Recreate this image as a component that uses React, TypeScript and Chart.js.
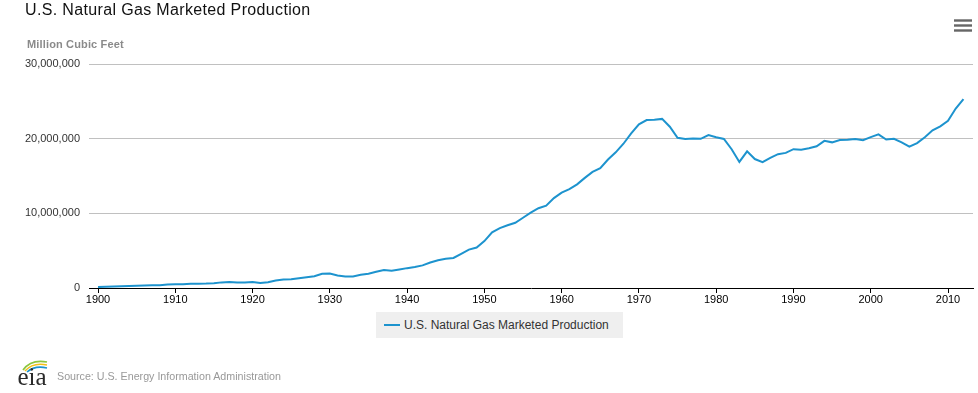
import React, { useEffect, useRef } from "react";
import { Chart, registerables } from "chart.js";

Chart.register(...registerables);

const titleText = "U.S. Natural Gas Marketed Production";
const unitText = "Million Cubic Feet";
const seriesName = "U.S. Natural Gas Marketed Production";
const sourceText = "Source: U.S. Energy Information Administration";

const years = [
  1900, 1901, 1902, 1903, 1904, 1905, 1906, 1907, 1908, 1909,
  1910, 1911, 1912, 1913, 1914, 1915, 1916, 1917, 1918, 1919,
  1920, 1921, 1922, 1923, 1924, 1925, 1926, 1927, 1928, 1929,
  1930, 1931, 1932, 1933, 1934, 1935, 1936, 1937, 1938, 1939,
  1940, 1941, 1942, 1943, 1944, 1945, 1946, 1947, 1948, 1949,
  1950, 1951, 1952, 1953, 1954, 1955, 1956, 1957, 1958, 1959,
  1960, 1961, 1962, 1963, 1964, 1965, 1966, 1967, 1968, 1969,
  1970, 1971, 1972, 1973, 1974, 1975, 1976, 1977, 1978, 1979,
  1980, 1981, 1982, 1983, 1984, 1985, 1986, 1987, 1988, 1989,
  1990, 1991, 1992, 1993, 1994, 1995, 1996, 1997, 1998, 1999,
  2000, 2001, 2002, 2003, 2004, 2005, 2006, 2007, 2008, 2009,
  2010, 2011, 2012,
];

const production = [
  128000, 170000, 210000, 245000, 270000, 295000, 340000, 380000, 380000, 460000,
  509000, 512000, 562000, 582000, 592000, 628000, 753000, 795000, 721000, 746000,
  798000, 662000, 762000, 1007000, 1141000, 1188000, 1313000, 1445000, 1568000, 1917000,
  1943000, 1686000, 1555000, 1555000, 1771000, 1917000, 2168000, 2407000, 2296000, 2477000,
  2660000, 2812000, 3032000, 3415000, 3711000, 3919000, 4031000, 4582000, 5148000, 5420000,
  6282000, 7457000, 8013000, 8397000, 8743000, 9405000, 10082000, 10680000, 11030000, 12046000,
  12771000, 13254000, 13877000, 14747000, 15547000, 16040000, 17207000, 18171000, 19322000, 20698000,
  21921000, 22493000, 22532000, 22648000, 21601000, 20109000, 19952000, 20025000, 19974000, 20471000,
  20180000, 19956000, 18582000, 16884000, 18304000, 17270000, 16859000, 17433000, 17918000, 18095000,
  18594000, 18532000, 18712000, 18982000, 19710000, 19506000, 19812000, 19866000, 19961000, 19805000,
  20198000, 20570000, 19885000, 19974000, 19517000, 18927000, 19410000, 20196000, 21112000, 21648000,
  22382000, 24036000, 25308000,
];

const xTicks = [1900, 1910, 1920, 1930, 1940, 1950, 1960, 1970, 1980, 1990, 2000, 2010];
const yTicks = [0, 10000000, 20000000, 30000000];

const FONT = '"Liberation Sans", Arial, Helvetica, sans-serif';
const LINE = "#1d93ce";

export default function App() {
  const ref = useRef<HTMLCanvasElement>(null);

  useEffect(() => {
    const chart = new Chart(ref.current as HTMLCanvasElement, {
      type: "line",
      data: {
        datasets: [
          {
            label: seriesName,
            data: years.map((x, i) => ({ x, y: production[i] })),
            borderColor: LINE,
            backgroundColor: LINE,
            borderWidth: 2,
            pointRadius: 0,
            tension: 0,
            fill: false,
          },
        ],
      },
      options: {
        responsive: false,
        animation: false,
        events: [],
        layout: { padding: { left: 0, top: 64, right: 5, bottom: 0 } },
        plugins: {
          legend: { display: false },
          tooltip: { enabled: false },
          title: { display: false },
        },
        scales: {
          x: {
            type: "linear",
            min: 1898.835,
            max: 2013.235,
            afterBuildTicks: (s: any) => {
              s.ticks = xTicks.map((v) => ({ value: v }));
            },
            afterFit: (s: any) => {
              s.height = 105;
            },
            ticks: {
              callback: (v: any) => String(v),
              font: { family: FONT, size: 11 },
              color: "#000",
              padding: 0,
              maxRotation: 0,
              autoSkip: false,
            },
            grid: {
              drawOnChartArea: false,
              drawTicks: true,
              tickLength: 5,
              color: "#000",
            },
            border: { display: true, color: "#000", width: 1 },
          },
          y: {
            type: "linear",
            min: 0,
            max: 30000000,
            afterBuildTicks: (s: any) => {
              s.ticks = yTicks.map((v) => ({ value: v }));
            },
            afterFit: (s: any) => {
              s.width = 89;
            },
            ticks: {
              callback: (v: any) => Number(v).toLocaleString("en-US"),
              font: { family: FONT, size: 11 },
              color: "#333",
              padding: 9,
            },
            grid: {
              drawTicks: false,
              lineWidth: 1,
              color: (ctx: any) => (ctx.tick && ctx.tick.value === 0 ? "rgba(0,0,0,0)" : "#c0c0c0"),
            },
            border: { display: false },
          },
        },
      },
    });
    return () => chart.destroy();
  }, []);

  return (
    <div
      style={{
        position: "fixed",
        left: 0,
        top: 0,
        width: 978,
        height: 393,
        background: "#fff",
        fontFamily: FONT,
        overflow: "hidden",
      }}
    >
      <canvas
        ref={ref}
        width={978}
        height={393}
        style={{ position: "absolute", left: 0, top: 0, width: 978, height: 393, display: "block" }}
      />
      <div
        style={{
          position: "absolute",
          left: 25,
          top: 2,
          fontSize: 16,
          lineHeight: "16px",
          letterSpacing: "0.35px",
          color: "#111",
          whiteSpace: "nowrap",
        }}
      >
        {titleText}
      </div>
      <div
        style={{
          position: "absolute",
          left: 27,
          top: 39,
          fontSize: 11,
          lineHeight: "11px",
          fontWeight: "bold",
          letterSpacing: "0.15px",
          color: "#8a8a8a",
          whiteSpace: "nowrap",
        }}
      >
        {unitText}
      </div>
      <svg
        width={20}
        height={16}
        style={{ position: "absolute", left: 953, top: 18 }}
        viewBox="0 0 20 16"
      >
        <rect x={1} y={1.3} width={18} height={2.4} fill="#666" />
        <rect x={1} y={6.3} width={18} height={2.4} fill="#666" />
        <rect x={1} y={11.3} width={18} height={2.4} fill="#666" />
      </svg>
      <div
        style={{
          position: "absolute",
          left: 376,
          top: 312,
          width: 247,
          height: 26,
          background: "#efefef",
        }}
      >
        <div
          style={{
            position: "absolute",
            left: 8,
            top: 12,
            width: 16,
            height: 2,
            background: LINE,
          }}
        />
        <div
          style={{
            position: "absolute",
            left: 28,
            top: 0,
            height: 26,
            lineHeight: "26px",
            fontSize: 12,
            color: "#333",
            whiteSpace: "nowrap",
          }}
        >
          {seriesName}
        </div>
      </div>
      <svg
        width={36}
        height={32}
        style={{ position: "absolute", left: 16, top: 358 }}
        viewBox="0 0 36 32"
      >
        <path d="M7 12 Q15 1 31 4" stroke="#8dc63f" strokeWidth={1.6} fill="none" />
        <path d="M9 13 Q17 4 31 7" stroke="#f2c018" strokeWidth={1.6} fill="none" />
        <path d="M11 14 Q19 7 31 10" stroke="#1d93ce" strokeWidth={1.6} fill="none" />
        <text
          x={1.5}
          y={26.5}
          fontFamily='"Liberation Serif", "DejaVu Serif", serif'
          fontSize={25}
          fill="#2a2a2a"
        >
          eia
        </text>
      </svg>
      <div
        style={{
          position: "absolute",
          left: 57,
          top: 370,
          fontSize: 10.7,
          lineHeight: "12px",
          color: "#999",
          whiteSpace: "nowrap",
        }}
      >
        {sourceText}
      </div>
    </div>
  );
}
